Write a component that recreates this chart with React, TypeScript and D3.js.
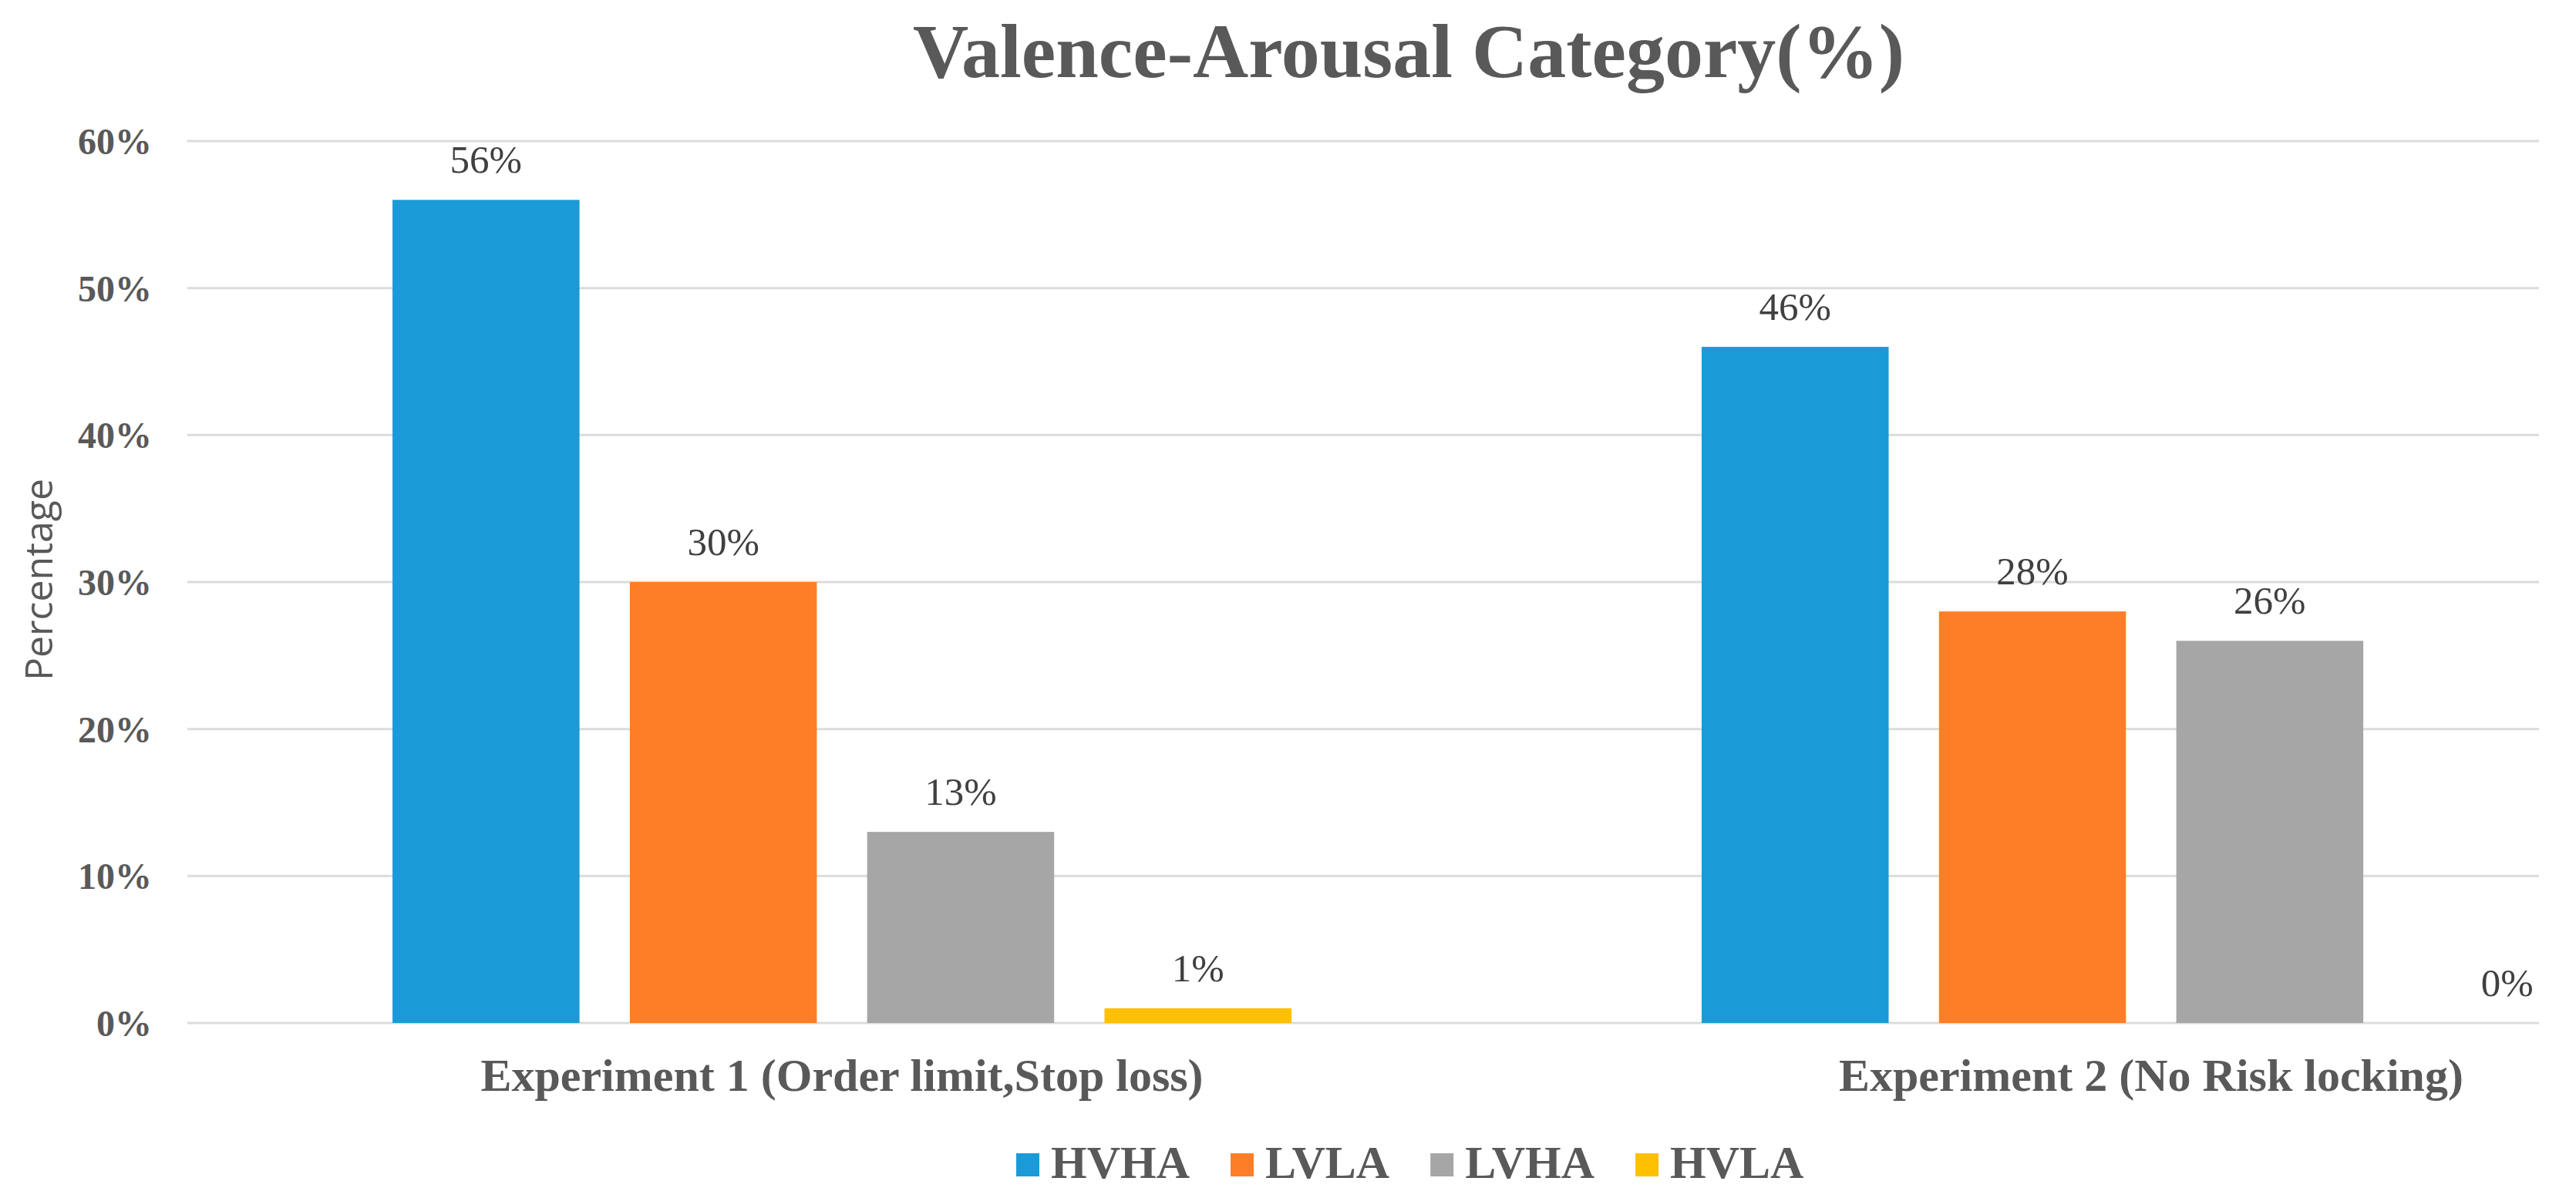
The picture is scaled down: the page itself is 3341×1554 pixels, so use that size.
import React, { useEffect, useRef } from 'react';
import * as d3 from 'd3';

// chart values
const categories = ['Experiment 1 (Order limit,Stop loss)', 'Experiment 2 (No Risk locking)'];
const seriesNames = ['HVHA', 'LVLA', 'LVHA', 'HVLA'];
const seriesColors = ['#1A9BD7', '#FE7E27', '#A6A6A6', '#FFC000'];
const exp1Values = [56, 30, 13, 1];
const exp2Values = [46, 28, 26, 0];
const yTicks = [0, 10, 20, 30, 40, 50, 60];

const WIDTH = 3341;
const HEIGHT = 1554;
const serif = '"Liberation Serif", "Times New Roman", serif';
const textGray = '#595959';

const App: React.FC = () => {
  const svgRef = useRef<SVGSVGElement | null>(null);

  useEffect(() => {
    document.body.style.margin = '0';
    const svg = d3.select(svgRef.current);
    svg.selectAll('*').remove();

    const rows = categories.map((c, i) => ({
      category: c,
      values: i === 0 ? exp1Values : exp2Values,
    }));

    // plot area: the original chart was cropped on the right, so the band range runs past the edge
    const plotLeft = 243;
    const gridRight = 3293;

    const x0 = d3
      .scaleBand()
      .domain(categories)
      .range([plotLeft, plotLeft + 3396])
      .paddingInner(0.3133)
      .paddingOuter(0.1567);

    const x1 = d3
      .scaleBand()
      .domain(seriesNames)
      .range([0, x0.bandwidth()])
      .paddingInner(0.212);

    const y = d3.scaleLinear().domain([0, 60]).range([1327, 183]);

    // gridlines
    svg
      .append('g')
      .selectAll('line')
      .data(yTicks)
      .enter()
      .append('line')
      .attr('x1', plotLeft)
      .attr('x2', gridRight)
      .attr('y1', (d) => y(d))
      .attr('y2', (d) => y(d))
      .attr('stroke', '#DCDCDC')
      .attr('stroke-width', 3);

    // y tick labels
    svg
      .append('g')
      .selectAll('text')
      .data(yTicks)
      .enter()
      .append('text')
      .attr('x', 197)
      .attr('y', (d) => y(d) + 17)
      .attr('text-anchor', 'end')
      .attr('font-family', serif)
      .attr('font-weight', 'bold')
      .attr('font-size', 48)
      .attr('fill', textGray)
      .text((d) => `${d}%`);

    // bars
    const groups = svg
      .append('g')
      .selectAll('g')
      .data(rows)
      .enter()
      .append('g')
      .attr('transform', (d) => `translate(${x0(d.category)}, 0)`);

    groups
      .selectAll('rect')
      .data((d) => d.values.map((v, i) => ({ key: seriesNames[i], value: v, color: seriesColors[i] })))
      .enter()
      .append('rect')
      .attr('x', (d) => x1(d.key)!)
      .attr('y', (d) => y(d.value))
      .attr('width', x1.bandwidth())
      .attr('height', (d) => y(0) - y(d.value))
      .attr('fill', (d) => d.color);

    // data labels
    groups
      .selectAll('text')
      .data((d) => d.values.map((v, i) => ({ key: seriesNames[i], value: v })))
      .enter()
      .append('text')
      .attr('x', (d) => x1(d.key)! + x1.bandwidth() / 2)
      .attr('y', (d) => y(d.value) - 35)
      .attr('text-anchor', 'middle')
      .attr('font-family', serif)
      .attr('font-size', 51)
      .attr('fill', '#404040')
      .text((d) => `${d.value}%`);

    // category labels
    svg
      .append('g')
      .selectAll('text')
      .data(categories)
      .enter()
      .append('text')
      .attr('x', (d) => x0(d)! + x0.bandwidth() / 2)
      .attr('y', 1415)
      .attr('text-anchor', 'middle')
      .attr('font-family', serif)
      .attr('font-weight', 'bold')
      .attr('font-size', 60)
      .attr('fill', textGray)
      .text((d) => d);

    // title
    svg
      .append('text')
      .attr('x', 1827)
      .attr('y', 100)
      .attr('text-anchor', 'middle')
      .attr('font-family', serif)
      .attr('font-weight', 'bold')
      .attr('font-size', 100)
      .attr('fill', textGray)
      .text('Valence-Arousal Category(%)');

    // y axis title
    svg
      .append('text')
      .attr('transform', 'translate(68, 752) rotate(-90)')
      .attr('text-anchor', 'middle')
      .attr('font-family', '"Open Sans", sans-serif')
      .attr('font-size', 50)
      .attr('fill', textGray)
      .text('Percentage');

    // legend, laid out left to right using measured text widths
    const legend = svg.append('g');
    let lx = 1318;
    seriesNames.forEach((name, i) => {
      legend
        .append('rect')
        .attr('x', lx)
        .attr('y', 1496)
        .attr('width', 30)
        .attr('height', 30)
        .attr('fill', seriesColors[i]);
      const t = legend
        .append('text')
        .attr('x', lx + 45)
        .attr('y', 1528)
        .attr('font-family', serif)
        .attr('font-weight', 'bold')
        .attr('font-size', 60)
        .attr('fill', textGray)
        .text(name);
      const w = (t.node() as SVGTextElement).getComputedTextLength();
      lx += 45 + w + 53;
    });
  }, []);

  return <svg ref={svgRef} width={WIDTH} height={HEIGHT} style={{ display: 'block', background: '#fff' }}></svg>;
};

export default App;
